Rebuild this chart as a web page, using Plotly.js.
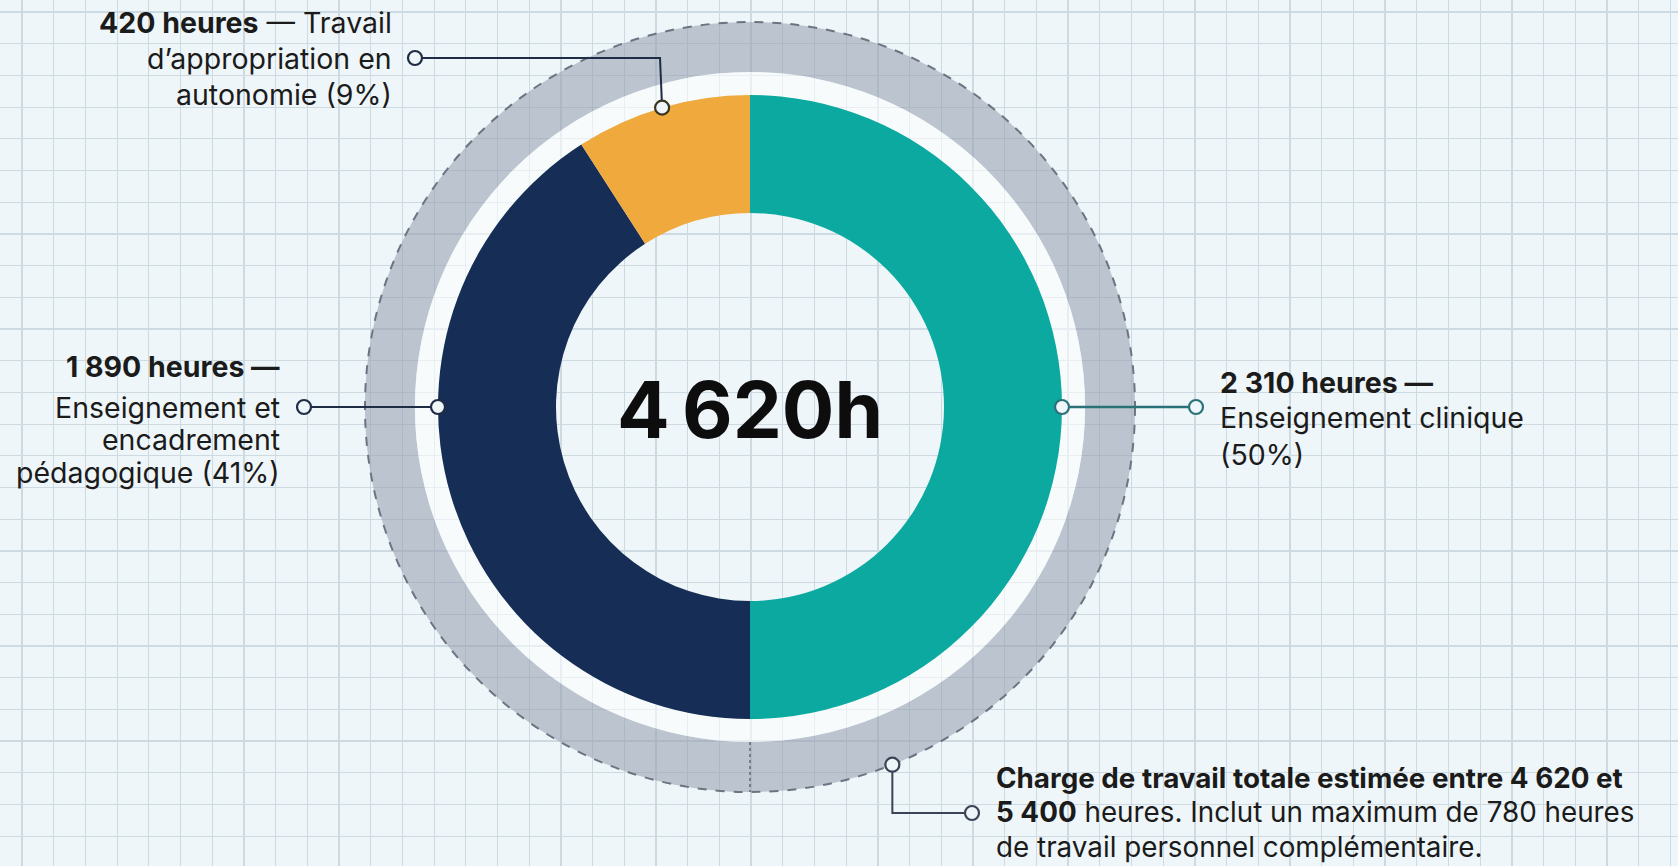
<!DOCTYPE html>
<html>
<head>
<meta charset="utf-8">
<script src="https://cdn.plot.ly/plotly-3.0.1.min.js"></script>
<style>
  html, body { margin: 0; padding: 0; background: #eef6f9; }
  #chart { width: 1678px; height: 866px; }
</style>
</head>
<body>
<div id="chart"></div>
<script>
// ---- Data ----
const categories = ['Enseignement clinique', 'Enseignement et encadrement pédagogique', 'Travail d’appropriation en autonomie'];
const hours = [2310, 1890, 420];
const sliceColors = ['#0ba99f', '#162d56', '#efa93c'];
const totalMin = 4620;
const totalMax = 5400;
const extraMax = 780;

// ---- Helpers ----
const W = 1678, H = 866;
const cx = 750, cy = 407;
const rOuter = 312, rHole = 194, rGapOuter = 335, rRing = 385;
const fmtSep = (n, sep) => String(n).replace(/\B(?=(\d{3})+(?!\d))/g, sep);
const fmt = n => fmtSep(n, '\u00A0');
const total = hours.reduce((a, b) => a + b, 0);
const pct = v => Math.round(v / total * 100);

function domainFor(r) {
  return {
    x: [(cx - r) / W, (cx + r) / W],
    y: [1 - (cy + r) / H, 1 - (cy - r) / H]
  };
}
// angle (deg, clockwise from 12 o'clock) of the middle of slice i
function midAngle(i) {
  let before = 0;
  for (let k = 0; k < i; k++) before += hours[k];
  return (before + hours[i] / 2) / total * 360;
}
function polar(angDeg, r) {
  const a = angDeg * Math.PI / 180;
  return [cx + r * Math.sin(a), cy - r * Math.cos(a)];
}

const traces = [
  // dummy cartesian trace so the grid axes exist
  { type: 'scatter', x: [0], y: [0], mode: 'none', hoverinfo: 'skip', showlegend: false },
  // gray outer ring (range up to total max)
  { type: 'pie', values: [totalMax], labels: ['Charge totale'], sort: false,
    hole: rGapOuter / rRing, domain: domainFor(rRing), textinfo: 'none', hoverinfo: 'skip',
    marker: { colors: ['rgba(150,161,175,0.58)'], line: { width: 0 } }, showlegend: false },
  // light gap ring
  { type: 'pie', values: [totalMax], labels: ['gap'], sort: false,
    hole: rOuter / rGapOuter, domain: domainFor(rGapOuter), textinfo: 'none', hoverinfo: 'skip',
    marker: { colors: ['rgba(255,255,255,0.55)'], line: { width: 0 } }, showlegend: false },
  // main donut
  { type: 'pie', values: hours, labels: categories, sort: false, direction: 'clockwise', rotation: 0,
    hole: rHole / rOuter, domain: domainFor(rOuter), textinfo: 'none', hoverinfo: 'label+value+percent',
    marker: { colors: sliceColors, line: { width: 0 } }, showlegend: false }
];

// anchors
const aTeal = polar(midAngle(0), rOuter);
const aNavy = polar(270, rOuter);
const aOrange = polar(midAngle(2), rOuter);
const aRing = polar(158.3, rRing);

const darkLine = '#1f2c45';
const tealLine = '#2a7278';
const shapes = [];
function line(x0, y0, x1, y1, color, width, dash) {
  shapes.push({ type: 'line', xref: 'x', yref: 'y', x0, y0, x1, y1,
    line: { color, width, dash: dash || 'solid' }, layer: 'above' });
}
function path(pts, color, width) {
  const d = pts.map((p, i) => (i ? 'L ' : 'M ') + p[0] + ' ' + p[1]).join(' ');
  shapes.push({ type: 'path', xref: 'x', yref: 'y', path: d, line: { color, width }, layer: 'above' });
}
function dot(p, color) {
  const r = 7;
  shapes.push({ type: 'circle', xref: 'x', yref: 'y', x0: p[0] - r, x1: p[0] + r, y0: p[1] - r, y1: p[1] + r,
    fillcolor: '#eef6f9', line: { color, width: 2.2 }, layer: 'above' });
}

// dashed outer circle
shapes.push({ type: 'circle', xref: 'x', yref: 'y', x0: cx - rRing, x1: cx + rRing, y0: cy - rRing, y1: cy + rRing,
  line: { color: '#6c7480', width: 2, dash: 'dash' }, layer: 'above' });
line(cx, cy + rGapOuter, cx, cy + rRing, '#5f6876', 1.5, 'dot');

// connectors
path([[415, 58], [660, 58], aOrange], darkLine, 2);
line(304, 407, aNavy[0], aNavy[1], darkLine, 2);
line(aTeal[0], aTeal[1], 1196, 407, tealLine, 2.5);
path([aRing, [aRing[0], 813], [972, 813]], '#3a4456', 2);

dot([415, 58], darkLine);
dot(aOrange, '#3a3320');
dot([304, 407], darkLine);
dot(aNavy, darkLine);
dot(aTeal, tealLine);
dot([1196, 407], tealLine);
dot(aRing, '#3a4456');
dot([972, 813], '#3a4456');

// ---- Text ----
const txtColor = '#1b1b1b';
const annotations = [];
function txt(text, x, y, anchor, size) {
  annotations.push({ xref: 'x', yref: 'y', x, y, text, showarrow: false,
    xanchor: anchor, yanchor: 'middle', align: anchor,
    font: { family: 'Inter, Roboto, sans-serif', size: size || 28.5, color: txtColor } });
}
// orange label
txt(`<b>${hours[2]} heures</b> — Travail`, 394, 22, 'right');
txt('d’appropriation en', 394, 58, 'right');
txt(`autonomie (${pct(hours[2])}%)`, 394, 94, 'right');
// navy label
txt(`<b>${fmt(hours[1])} heures —</b>`, 282, 366, 'right');
txt('Enseignement et', 282, 407, 'right');
txt('encadrement', 282, 439, 'right');
txt(`pédagogique (${pct(hours[1])}%)`, 282, 472, 'right');
// teal label
txt(`<b>${fmt(hours[0])} heures —</b>`, 1218, 382, 'left');
txt('Enseignement clinique', 1218, 417, 'left');
txt(`(${pct(hours[0])}%)`, 1218, 454, 'left');
// bottom note
txt(`<b>Charge de travail totale estimée entre ${fmt(totalMin)} et</b>`, 994, 778, 'left', 27.8);
txt(`<b>${fmt(totalMax)}</b> heures. Inclut un maximum de ${extraMax} heures`, 994, 812, 'left', 27.8);
txt('de travail personnel complémentaire.', 994, 847, 'left', 27.8);
// center total
annotations.push({ xref: 'x', yref: 'y', x: cx, y: cy + 2, text: `<b>${fmtSep(total, '\u202F')}h</b>`, showarrow: false,
  xanchor: 'center', yanchor: 'middle',
  font: { family: 'Inter, Roboto, sans-serif', size: 78, color: '#0d0d0d' } });

const layout = {
  width: W, height: H,
  margin: { l: 0, r: 0, t: 0, b: 0, pad: 0 },
  paper_bgcolor: '#eef6f9', plot_bgcolor: '#eef6f9',
  showlegend: false,
  xaxis: { range: [0, W], tick0: 22, dtick: 31.7, showgrid: true, gridcolor: '#cddae1', gridwidth: 1.2,
    zeroline: false, showline: false, showticklabels: false, ticks: '', fixedrange: true },
  yaxis: { range: [H, 0], tick0: 12, dtick: 31.7, showgrid: true, gridcolor: '#cddae1', gridwidth: 1.2,
    zeroline: false, showline: false, showticklabels: false, ticks: '', fixedrange: true },
  shapes, annotations
};

Plotly.newPlot('chart', traces, layout, { displayModeBar: false, staticPlot: true });
</script>
</body>
</html>
